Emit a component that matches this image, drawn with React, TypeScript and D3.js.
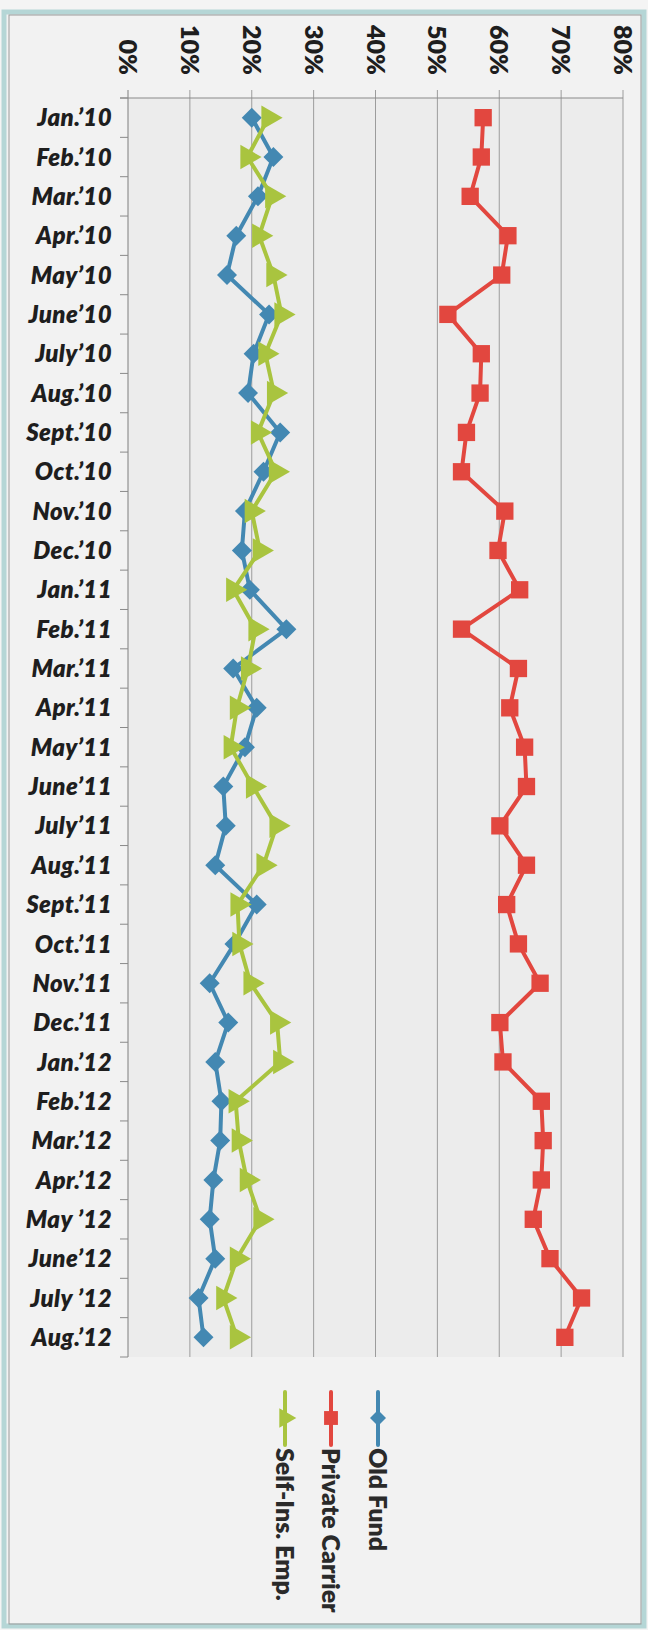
import React from "react";
import * as d3 from "d3";

const months = ["Jan.’10","Feb.’10","Mar.’10","Apr.’10","May’10","June’10","July’10","Aug.’10","Sept.’10","Oct.’10","Nov.’10","Dec.’10","Jan.’11","Feb.’11","Mar.’11","Apr.’11","May’11","June’11","July’11","Aug.’11","Sept.’11","Oct.’11","Nov.’11","Dec.’11","Jan.’12","Feb.’12","Mar.’12","Apr.’12","May ’12","June’12","July ’12","Aug.’12"];

const oldFund = [20.0, 23.5, 21.0, 17.5, 16.0, 22.8, 20.3, 19.4, 24.6, 21.9, 18.9, 18.4, 19.7, 25.6, 17.0, 20.8, 18.9, 15.4, 15.8, 14.1, 20.8, 17.2, 13.2, 16.2, 14.1, 15.1, 14.9, 13.8, 13.2, 14.1, 11.4, 12.2];
const privateCarrier = [57.4, 57.1, 55.3, 61.4, 60.4, 51.7, 57.1, 56.9, 54.7, 53.9, 60.9, 59.8, 63.3, 53.9, 63.1, 61.7, 64.1, 64.4, 60.1, 64.4, 61.2, 63.1, 66.6, 60.1, 60.6, 66.8, 67.1, 66.8, 65.5, 68.2, 73.3, 70.6];
const selfIns = [22.7, 19.3, 23.3, 21.2, 23.5, 24.8, 22.2, 23.6, 21.0, 23.9, 20.0, 21.3, 17.0, 20.6, 19.4, 17.6, 16.6, 20.2, 24.0, 21.9, 17.7, 18.0, 19.8, 24.1, 24.6, 17.4, 17.9, 19.2, 21.4, 17.6, 15.4, 17.6];

const tickValues = [0, 10, 20, 30, 40, 50, 60, 70, 80];
const seriesNames = ["Old Fund", "Private Carrier", "Self-Ins. Emp."];

const W = 648, H = 1630;
const FONT = "Lato, 'Open Sans', sans-serif";

const colors = ["#4388b2", "#e2473f", "#a9c43f"];

export default function App() {
  const x = d3.scaleLinear().domain([0, 80]).range([128, 623]);
  const y = d3.scaleBand<string>().domain(months).range([98, 1357]).paddingInner(0).paddingOuter(0);
  const bw = y.bandwidth();
  const cy = (m: string) => (y(m) as number) + bw / 2;

  const series = [
    { name: seriesNames[0], values: oldFund, color: colors[0], shape: "diamond" },
    { name: seriesNames[1], values: privateCarrier, color: colors[1], shape: "square" },
    { name: seriesNames[2], values: selfIns, color: colors[2], shape: "triangle" },
  ];

  const line = d3.line<number>().x((v) => x(v)).y((_, i) => cy(months[i]));

  const symPath = (shape: string) => {
    if (shape === "square") return d3.symbol().type(d3.symbolSquare).size(300)() as string;
    if (shape === "diamond") return d3.symbol().type(d3.symbolSquare).size(200)() as string;
    return d3.symbol().type(d3.symbolTriangle).size(260)() as string;
  };
  const symRot = (shape: string) => (shape === "diamond" ? 45 : shape === "triangle" ? 90 : 0);

  const boundaries = d3.range(months.length + 1).map((i) => 98 + i * bw);

  const legendX = [378, 331, 285];

  return (
    <svg width={W} height={H} style={{ position: "absolute", left: 0, top: 0, display: "block" }} fontFamily={FONT}>
      <rect x={0} y={0} width={W} height={H} fill="#f4f4f4" />
      {/* frame */}
      <rect x={4} y={12} width={640} height={1614} fill="#f2f2f2" stroke="#b5d6d6" strokeWidth={5} />
      <rect x={9} y={15} width={632} height={1609} fill="none" stroke="#9a9a9a" strokeWidth={1} />
      {/* plot area */}
      <rect x={128} y={98} width={495} height={1259} fill="#ececec" />
      {/* gridlines */}
      {tickValues.map((t) => (
        <line key={t} x1={x(t)} x2={x(t)} y1={90} y2={1357} stroke={t === 0 ? "#7f7f7f" : "#9c9c9c"} strokeWidth={1} />
      ))}
      <line x1={120} x2={623} y1={98} y2={98} stroke="#8a8a8a" strokeWidth={1} />
      {boundaries.map((b, i) => (
        <line key={i} x1={120} x2={128} y1={b} y2={b} stroke="#8a8a8a" strokeWidth={1} />
      ))}
      {/* value tick labels */}
      {tickValues.map((t) => (
        <text key={t} transform={`translate(${x(t)},75) rotate(90)`} textAnchor="end" dy="0.36em" fontSize={25} fontWeight={800} fill="#1e1e1e">
          {t + "%"}
        </text>
      ))}
      {/* category labels */}
      {months.map((m) => (
        <text key={m} x={112} y={cy(m)} dy="0.36em" textAnchor="end" fontSize={24} fontWeight={800} fontStyle="italic" letterSpacing={0.4} fill="#1e1e1e">
          {m}
        </text>
      ))}
      {/* series */}
      {series.map((s) => (
        <g key={s.name}>
          <path d={line(s.values) as string} fill="none" stroke={s.color} strokeWidth={4} strokeLinejoin="round" />
          {s.values.map((v, i) => (
            <path key={i} d={symPath(s.shape)} transform={`translate(${x(v)},${cy(months[i])}) rotate(${symRot(s.shape)})`} fill={s.color} />
          ))}
        </g>
      ))}
      {/* legend */}
      {series.map((s, i) => (
        <g key={s.name}>
          <line x1={legendX[i]} x2={legendX[i]} y1={1392} y2={1445} stroke={s.color} strokeWidth={4} strokeLinecap="round" />
          <path d={symPath(s.shape)} transform={`translate(${legendX[i]},1418) rotate(${symRot(s.shape)}) scale(0.8)`} fill={s.color} />
          <text transform={`translate(${legendX[i]},1448) rotate(90)`} dy="0.36em" fontSize={25} fontWeight={800} fill="#2a2a2a">
            {s.name}
          </text>
        </g>
      ))}
    </svg>
  );
}
